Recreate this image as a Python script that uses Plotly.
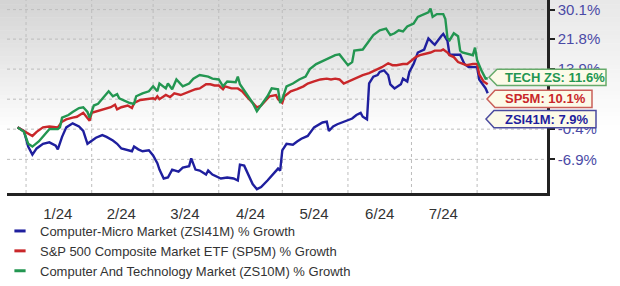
import math
import plotly.graph_objects as go

# ---------------- data (percent growth) ----------------
micro_dates = ["2023-12-28","2023-12-31","2024-01-02","2024-01-04","2024-01-06","2024-01-09","2024-01-12","2024-01-15","2024-01-16","2024-01-18",
               "2024-01-20","2024-01-23","2024-01-26","2024-01-28","2024-01-30","2024-02-01","2024-02-03","2024-02-06","2024-02-08","2024-02-11",
               "2024-02-13","2024-02-15","2024-02-18","2024-02-20","2024-02-21","2024-02-23","2024-02-25","2024-02-28","2024-03-01","2024-03-03",
               "2024-03-04","2024-03-06","2024-03-08","2024-03-10","2024-03-13","2024-03-15","2024-03-18","2024-03-19","2024-03-21","2024-03-23",
               "2024-03-26","2024-03-27","2024-03-29","2024-04-02","2024-04-05","2024-04-08","2024-04-10","2024-04-11","2024-04-13","2024-04-15",
               "2024-04-17","2024-04-19","2024-04-21","2024-04-24","2024-04-26","2024-04-29","2024-04-30","2024-05-01","2024-05-03","2024-05-06",
               "2024-05-08","2024-05-10","2024-05-13","2024-05-16","2024-05-20","2024-05-22","2024-05-23","2024-05-25","2024-05-27","2024-05-31",
               "2024-06-03","2024-06-05","2024-06-07","2024-06-08","2024-06-10","2024-06-11","2024-06-13","2024-06-15","2024-06-16","2024-06-18",
               "2024-06-20","2024-06-21","2024-06-23","2024-06-26","2024-06-27","2024-06-29","2024-06-30","2024-07-02","2024-07-04","2024-07-07",
               "2024-07-09","2024-07-11","2024-07-12","2024-07-15","2024-07-16","2024-07-18","2024-07-19","2024-07-22","2024-07-24","2024-07-26",
               "2024-07-28","2024-07-31","2024-08-01","2024-08-02","2024-08-05","2024-08-06"]
micro_pct = [0.0,-0.8,-4.2,-5.9,-4.6,-3.6,-3.3,-4.0,-4.8,-2.1,
             0.0,0.9,0.2,-0.8,-3.6,-2.9,-2.3,-1.7,-2.1,-2.9,
             -3.6,-4.6,-5.0,-5.2,-4.2,-4.8,-5.2,-5.0,-6.1,-7.7,
             -9.0,-10.8,-10.6,-9.0,-9.4,-8.6,-8.3,-6.7,-9.0,-9.2,
             -10.0,-9.2,-10.0,-10.8,-10.6,-10.8,-11.2,-8.0,-8.2,-10.0,
             -11.9,-12.9,-12.5,-11.2,-10.2,-8.8,-9.2,-5.0,-3.6,-3.8,
             -3.1,-2.5,-1.9,0.0,1.1,1.3,-0.8,0.2,0.7,1.5,
             2.0,2.8,3.3,2.4,1.8,10.3,12.0,12.4,13.2,13.6,
             12.4,10.1,9.1,10.1,11.5,10.8,13.2,15.2,18.2,19.0,
             22.0,20.8,20.3,22.6,23.2,21.3,17.6,17.6,17.6,15.2,
             14.4,14.4,14.4,11.3,9.1,7.9]

sp_dates = ["2023-12-28","2023-12-31","2024-01-04","2024-01-06","2024-01-09","2024-01-12","2024-01-16","2024-01-18","2024-01-20","2024-01-23",
            "2024-01-25","2024-01-28","2024-01-30","2024-01-31","2024-02-01","2024-02-04","2024-02-06","2024-02-10","2024-02-12","2024-02-13",
            "2024-02-15","2024-02-18","2024-02-20","2024-02-21","2024-02-24","2024-02-27","2024-03-01","2024-03-02","2024-03-03","2024-03-04",
            "2024-03-07","2024-03-09","2024-03-11","2024-03-14","2024-03-16","2024-03-18","2024-03-21","2024-03-23","2024-03-26","2024-03-28",
            "2024-03-30","2024-04-01","2024-04-03","2024-04-04","2024-04-07","2024-04-10","2024-04-12","2024-04-15","2024-04-17","2024-04-19",
            "2024-04-21","2024-04-23","2024-04-25","2024-04-28","2024-04-29","2024-05-01","2024-05-02","2024-05-05","2024-05-08","2024-05-11",
            "2024-05-13","2024-05-16","2024-05-19","2024-05-22","2024-05-24","2024-05-26","2024-05-28","2024-05-30","2024-06-01","2024-06-04",
            "2024-06-08","2024-06-11","2024-06-14","2024-06-17","2024-06-20","2024-06-22","2024-06-24","2024-06-27","2024-06-29","2024-07-01",
            "2024-07-03","2024-07-05","2024-07-07","2024-07-10","2024-07-12","2024-07-15","2024-07-16","2024-07-18","2024-07-19","2024-07-21",
            "2024-07-23","2024-07-25","2024-07-27","2024-07-30","2024-08-01","2024-08-02","2024-08-04","2024-08-06"]
sp_pct = [0.0,-0.8,-1.9,-1.0,0.0,0.2,0.0,1.3,1.8,2.2,
          2.4,3.3,2.2,1.5,3.3,3.7,4.1,4.6,5.2,4.1,
          4.6,5.0,4.4,5.6,6.3,6.5,6.7,6.5,7.2,6.5,
          7.5,7.0,7.9,7.5,7.9,8.4,8.9,9.1,10.1,10.1,
          9.8,9.8,8.9,9.6,9.1,9.1,8.4,6.7,5.6,4.6,
          5.0,6.1,7.2,7.5,6.5,5.6,7.2,8.4,8.9,9.6,
          10.3,10.8,11.3,11.5,11.3,11.5,11.3,10.3,10.8,11.5,
          12.4,12.9,13.6,14.4,15.4,14.9,14.9,15.2,15.2,16.2,
          17.0,17.5,17.7,18.2,18.7,18.7,19.0,18.2,17.5,17.0,
          15.7,15.2,14.9,15.2,15.2,12.6,10.8,10.1]

tech_dates = ["2023-12-28","2023-12-31","2024-01-02","2024-01-04","2024-01-07","2024-01-09","2024-01-12","2024-01-16","2024-01-17","2024-01-18",
              "2024-01-21","2024-01-23","2024-01-26","2024-01-28","2024-01-30","2024-01-31","2024-02-02","2024-02-04","2024-02-06","2024-02-09",
              "2024-02-11","2024-02-13","2024-02-14","2024-02-17","2024-02-19","2024-02-21","2024-02-22","2024-02-25","2024-02-28","2024-03-01",
              "2024-03-03","2024-03-04","2024-03-07","2024-03-08","2024-03-10","2024-03-12","2024-03-15","2024-03-18","2024-03-20","2024-03-23",
              "2024-03-27","2024-03-29","2024-04-01","2024-04-03","2024-04-05","2024-04-09","2024-04-10","2024-04-11","2024-04-14","2024-04-17",
              "2024-04-19","2024-04-21","2024-04-24","2024-04-26","2024-04-29","2024-04-30","2024-05-01","2024-05-03","2024-05-06","2024-05-09",
              "2024-05-12","2024-05-14","2024-05-17","2024-05-19","2024-05-21","2024-05-24","2024-05-26","2024-05-28","2024-05-30","2024-06-01",
              "2024-06-03","2024-06-04","2024-06-08","2024-06-11","2024-06-13","2024-06-16","2024-06-19","2024-06-21","2024-06-23","2024-06-25",
              "2024-06-27","2024-06-29","2024-07-02","2024-07-04","2024-07-07","2024-07-09","2024-07-10","2024-07-11","2024-07-13","2024-07-16",
              "2024-07-17","2024-07-18","2024-07-19","2024-07-21","2024-07-23","2024-07-24","2024-07-25","2024-07-28","2024-07-30","2024-07-31",
              "2024-08-01","2024-08-03","2024-08-05","2024-08-06"]
tech_pct = [0.0,-1.0,-3.6,-4.2,-3.1,-2.1,-0.4,-0.4,0.0,2.2,
            2.8,3.5,4.4,4.6,3.5,2.2,5.0,5.4,6.5,8.4,
            7.2,7.7,6.7,6.1,5.6,5.4,7.2,7.9,8.4,9.6,
            8.4,10.3,9.1,10.3,8.9,11.3,9.6,10.3,11.5,12.4,
            12.0,11.5,11.3,9.6,10.8,10.6,12.0,10.1,7.9,5.6,
            3.7,5.0,7.2,9.1,8.9,5.6,6.5,9.6,10.3,11.3,
            12.0,13.9,15.2,15.7,16.2,17.0,17.5,17.7,16.2,14.9,
            15.7,18.7,19.0,21.3,22.9,24.2,24.7,22.9,23.4,24.2,
            23.9,25.3,26.1,28.0,28.8,29.3,30.4,28.0,28.8,28.8,
            27.4,22.1,21.5,23.4,22.6,18.7,18.2,17.7,17.5,19.5,
            16.2,13.6,11.5,11.6]

series_names = ["Computer-Micro Market (ZSI41M) % Growth",
                "S&P 500 Composite Market ETF (SP5M) % Growth",
                "Computer And Technology Market (ZS10M) % Growth"]
callout_prefix = ["ZSI41M", "SP5M", "TECH ZS"]

y_tick_pct = [30.1, 21.8, 13.9, 6.5, -0.4, -6.9]
y_tick_text = ["30.1%", "21.8%", "13.9%", "6.5%", "-0.4%", "-6.9%"]
x_tick_dates = ["2024-01-16","2024-02-15","2024-03-16","2024-04-16","2024-05-16","2024-06-16","2024-07-16"]
x_tick_text = ["1/24","2/24","3/24","4/24","5/24","6/24","7/24"]
month_starts = ["2024-01-01","2024-02-01","2024-03-01","2024-04-01","2024-05-01",
                "2024-06-01","2024-07-01","2024-08-01"]
x_range = ["2023-12-23", "2024-09-03"]
y_log_range = [-0.0637, 0.1236]

# ---------------- styles ----------------
line_colors = ["#1f1f9e", "#c9272a", "#239651"]
callout_border = ["#4b4b9e", "#c9605a", "#66aa6a"]
axis_label_color = "#4a4aa6"
grid_color = "#bdbdbd"

W, H = 620, 286
L, R, T, B = 7, 73, 0, 85
PW, PH = W - L - R, H - T - B

def px(x):
    return (x - L) / PW

def py(y):
    return (H - B - y) / PH

fig = go.Figure()

def ratio(vals):
    return [1 + v / 100 for v in vals]

all_dates = [micro_dates, sp_dates, tech_dates]
all_pct = [micro_pct, sp_pct, tech_pct]

# background gradient (below everything)
shapes = []
n = 30
for i in range(n):
    g = int(round(212 + (255 - 212) * i / n))
    g2 = int(round(232 + (255 - 232) * i / n))
    y0, y1 = i * 4.5, (i + 1) * 4.5 + 0.5
    shapes.append(dict(type="rect", xref="paper", yref="paper", layer="below",
                       x0=px(0), x1=px(W - R), y0=py(y1), y1=py(y0),
                       fillcolor=f"rgb({g},{g},{g})", line=dict(width=0)))
    shapes.append(dict(type="rect", xref="paper", yref="paper", layer="below",
                       x0=px(W - R), x1=px(W), y0=py(y1), y1=py(y0),
                       fillcolor=f"rgb({g2},{g2},{g2})", line=dict(width=0)))

# grid lines drawn as line traces on the axes (above the gradient, below the series)
lo, hi = y_log_range
y_bottom, y_top = 10 ** lo, 10 ** hi
for m in month_starts:
    fig.add_trace(go.Scatter(x=[m, m], y=[y_bottom, y_top], mode="lines",
                             line=dict(color=grid_color, width=1, dash="dot"),
                             showlegend=False, hoverinfo="skip"))
for r in ratio(y_tick_pct):
    fig.add_trace(go.Scatter(x=x_range, y=[r, r], mode="lines",
                             line=dict(color=grid_color, width=1, dash="dot"),
                             showlegend=False, hoverinfo="skip"))

for d, p, c in zip(all_dates, all_pct, line_colors):
    fig.add_trace(go.Scatter(x=d, y=ratio(p), mode="lines",
                             line=dict(color=c, width=2.4, shape="linear"),
                             showlegend=False, hoverinfo="skip"))

for name, c in zip(series_names, line_colors):
    fig.add_trace(go.Scatter(x=[None], y=[None], mode="markers", name=name,
                             marker=dict(symbol="line-ew", size=8,
                                         line=dict(color=c, width=3))))

# callouts (ZSI41M, SP5M, TECH)
boxes = [  # tip_x, body_x, right_x, top, bottom
    (486, 494, 596, 115, 133),
    (487, 495, 592, 94, 112),
    (489, 497, 606, 72, 89),
]
annotations = []
for (tx, bx, rx, top, bot), pre, pvals, bc, tc in zip(boxes, callout_prefix, all_pct, callout_border, line_colors):
    yc = (top + bot) / 2
    path = (f"M {px(tx)},{py(yc)} L {px(bx)},{py(top)} L {px(rx)},{py(top)} "
            f"L {px(rx)},{py(bot)} L {px(bx)},{py(bot)} Z")
    shapes.append(dict(type="path", xref="paper", yref="paper", layer="above",
                       path=path, fillcolor="#fcfae8", line=dict(color=bc, width=1.5)))
    annotations.append(dict(xref="paper", yref="paper", x=px(503), y=py(yc),
                            xanchor="left", yanchor="middle", showarrow=False,
                            text=f"<b>{pre}: {pvals[-1]:.1f}%</b>",
                            font=dict(family="Arial, Liberation Sans", size=13, color=tc)))

fig.update_layout(
    template="none",
    width=W, height=H,
    margin=dict(l=L, r=R, t=T, b=B, pad=0),
    paper_bgcolor="white",
    plot_bgcolor="rgba(0,0,0,0)",
    font=dict(family="Arial, Liberation Sans", size=15, color="#333333"),
    shapes=shapes,
    annotations=annotations,
    showlegend=True,
    legend=dict(x=px(0), y=py(225), xanchor="left", yanchor="top",
                orientation="v", bgcolor="rgba(0,0,0,0)", itemwidth=30,
                font=dict(size=13), tracegroupgap=0, itemclick=False),
    xaxis=dict(type="date", range=x_range,
               tickmode="array", tickvals=x_tick_dates, ticktext=x_tick_text,
               showgrid=False, ticks="", showline=True, linecolor="#222222", linewidth=2.5,
               ticklabelstandoff=5, zeroline=False,
               tickfont=dict(size=15, color="#333333")),
    yaxis=dict(type="log", side="right",
               range=y_log_range,
               tickmode="array", tickvals=ratio(y_tick_pct), ticktext=y_tick_text,
               showgrid=False,
               showline=True, linecolor="#222222", linewidth=2.5,
               ticks="outside", ticklen=5, tickwidth=2, tickcolor="#222222",
               tickfont=dict(size=15, color=axis_label_color), zeroline=False),
)

fig.write_html("out.html")
